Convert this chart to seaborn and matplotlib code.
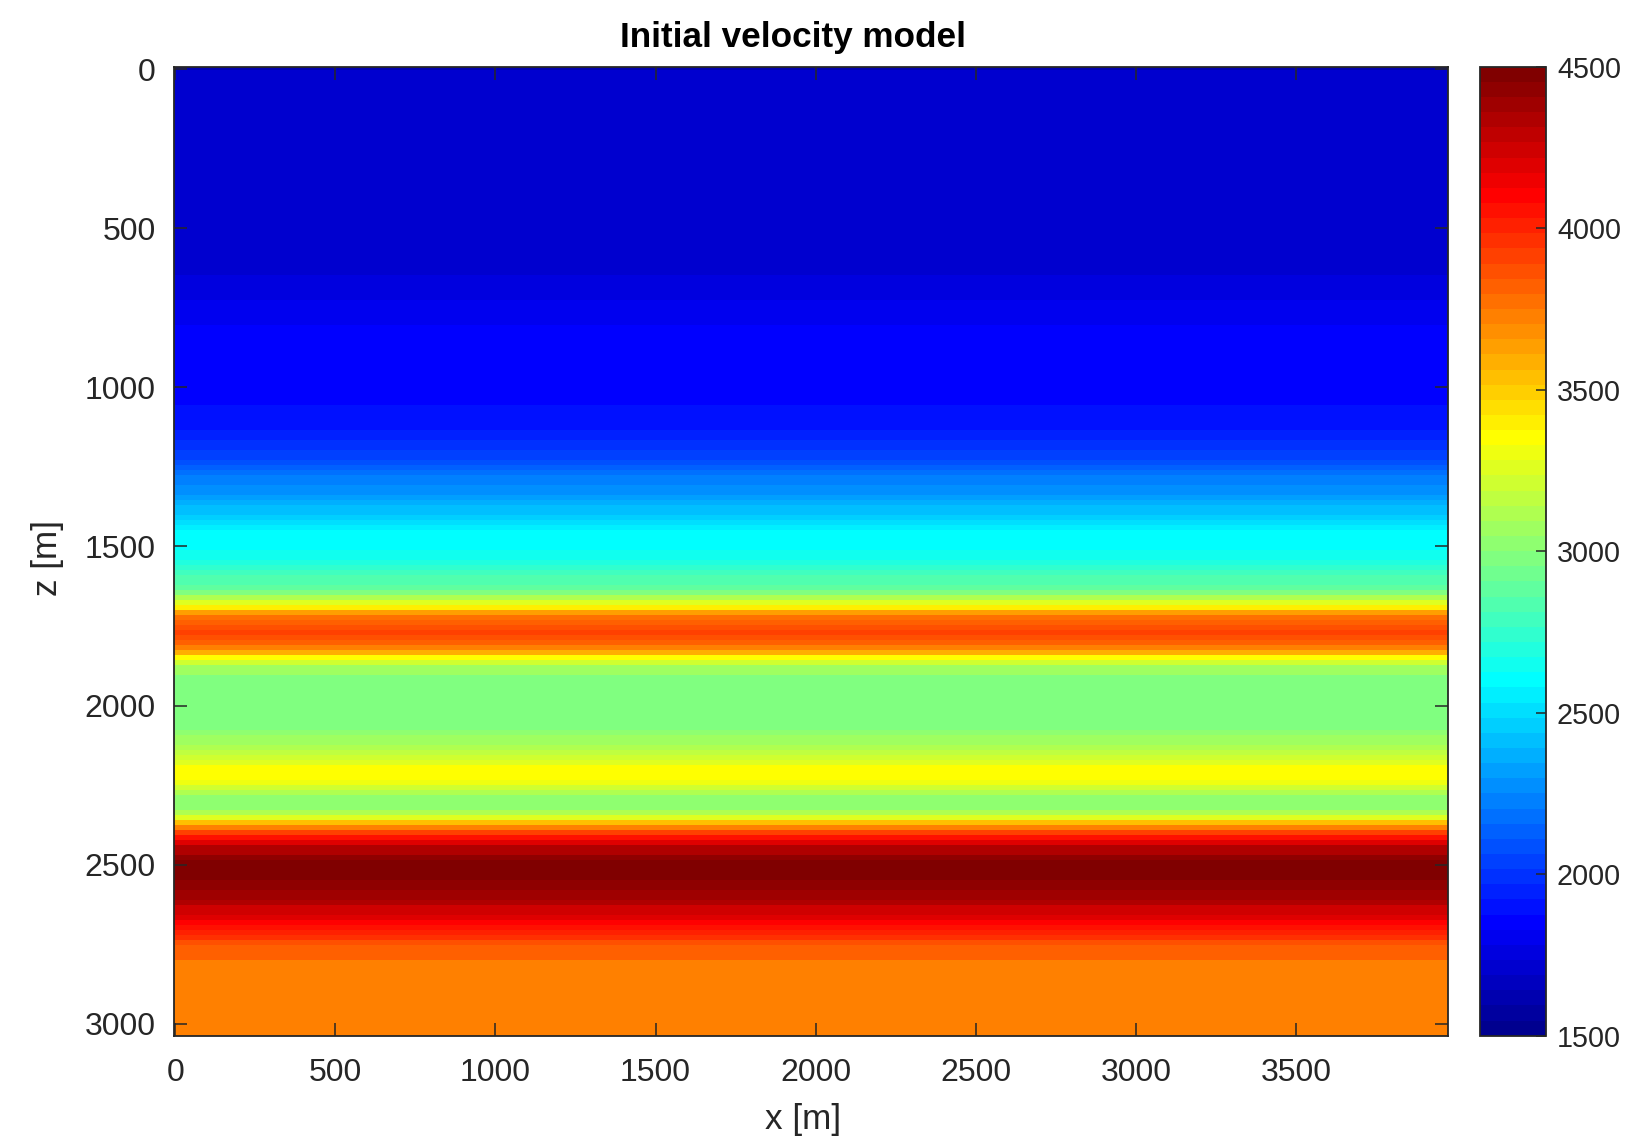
import numpy as np
import pandas as pd
import matplotlib
matplotlib.use("Agg")
import matplotlib.pyplot as plt
from matplotlib.colors import ListedColormap
import seaborn as sns

# ---------------- data ----------------
# velocity profile as layers: number of model rows (dz each) and velocity [m/s]
layer_rows = [1, 41, 5, 5, 16, 5, 2, 2, 2, 1, 1, 1, 2, 2, 1, 1, 2, 1, 1, 1, 4, 2, 1, 1, 1,
              2, 1, 1, 1, 1, 1, 1, 1, 1, 1, 1, 1, 1, 1, 1, 1, 1, 2, 11, 1, 2, 1, 1, 1, 1,
              3, 1, 1, 1, 3, 1, 1, 1, 1, 1, 1, 1, 2, 1, 4, 2, 2, 1, 2, 1, 1, 1, 1, 1, 1, 3, 16]
layer_velocity = [1617, 1711, 1758, 1805, 1852, 1898, 1945, 1992, 2039, 2086, 2133, 2180,
                  2227, 2273, 2320, 2367, 2414, 2461, 2508, 2555, 2602, 2648, 2695, 2742,
                  2789, 2836, 2883, 2977, 3117, 3258, 3398, 3633, 3773, 3820, 3867, 3914,
                  3867, 3820, 3727, 3586, 3352, 3211, 3070, 2977, 3023, 3070, 3117, 3164,
                  3211, 3258, 3352, 3305, 3211, 3117, 3023, 3117, 3258, 3539, 3727, 3914,
                  4055, 4195, 4336, 4430, 4477, 4430, 4383, 4336, 4242, 4195, 4102, 4055,
                  4008, 3961, 3867, 3820, 3727]
assert len(layer_rows) == len(layer_velocity)

z_first_edge = -13.5   # top edge of first model row [m]
dz = 15.72             # row spacing [m]
z_view = (-8.2, 3038.0)  # visible depth range [m]
dx = 10.0              # column spacing [m]
n_columns = 398        # columns centred at 0 .. 3970 m

x_ticks = [0, 500, 1000, 1500, 2000, 2500, 3000, 3500]
z_ticks = [0, 500, 1000, 1500, 2000, 2500, 3000]
cbar_ticks = [1500, 2000, 2500, 3000, 3500, 4000, 4500]
v_min, v_max = 1500, 4500

title = "Initial velocity model"
x_label = "x [m]"
z_label = "z [m]"

# ---------------- model grid ----------------
profile = np.repeat(np.array(layer_velocity, float), layer_rows)
n_rows = len(profile)
model = np.tile(profile[:, None], (1, n_columns))
df = pd.DataFrame(model,
                  index=np.round(z_first_edge + (np.arange(n_rows) + 0.5) * dz, 1),
                  columns=np.arange(n_columns) * dx)


def matlab_jet(n=64):
    m = int(np.ceil(n / 4))
    u = np.concatenate([np.arange(1, m + 1) / m, np.ones(m - 1), np.arange(m, 0, -1) / m])
    g = int(np.ceil(m / 2)) - (1 if n % 4 == 1 else 0) + np.arange(1, len(u) + 1)
    r = g + m
    b = g - m
    J = np.zeros((n, 3))
    for idx, ch in ((r, 0), (g, 1), (b, 2)):
        ok = (idx >= 1) & (idx <= n)
        J[idx[ok] - 1, ch] = u[ok]
    return ListedColormap(J)


cmap = matlab_jet(64)


def z_to_row(z):
    return (z - z_first_edge) / dz


def x_to_col(x):
    return x / dx + 0.5


# ---------------- figure ----------------
sns.set_theme(style="white")
plt.rcParams['font.family'] = ['Liberation Sans', 'DejaVu Sans']
dark = "#262626"

W, H = 1630, 1143
fig = plt.figure(figsize=(W / 100, H / 100), dpi=100)
ax_l, ax_r, ax_t, ax_b = 173.7, 1448.0, 66.7, 1035.7
ax = fig.add_axes([ax_l / W, 1 - ax_b / H, (ax_r - ax_l) / W, (ax_b - ax_t) / H])
cb_l, cb_r = 1480.3, 1545.8
cax = fig.add_axes([cb_l / W, 1 - ax_b / H, (cb_r - cb_l) / W, (ax_b - ax_t) / H])

sns.heatmap(df, ax=ax, cbar_ax=cax, cmap=cmap, vmin=v_min, vmax=v_max,
            xticklabels=False, yticklabels=False, rasterized=True)

ax.set_ylim(z_to_row(z_view[1]), z_to_row(z_view[0]))
ax.set_xticks([x_to_col(x) for x in x_ticks])
ax.set_xticklabels([str(x) for x in x_ticks])
ax.set_yticks([z_to_row(z) for z in z_ticks])
ax.set_yticklabels([str(z) for z in z_ticks], rotation=0)
ax.set_xlabel("")
ax.set_ylabel("")
ax.set_axisbelow(False)

for s in ax.spines.values():
    s.set_visible(True)
    s.set_color(dark)
    s.set_linewidth(1.3)
ax.tick_params(axis="both", direction="in", length=9.5, width=1.1, color=dark,
               top=True, right=True, bottom=True, left=True,
               labelsize=23, labelcolor=dark)
ax.tick_params(axis="y", pad=13)
ax.tick_params(axis="x", pad=16)

cbar = ax.collections[0].colorbar
cbar.set_ticks(cbar_ticks)
cbar.set_ticklabels([str(t) for t in cbar_ticks])
cbar.outline.set_visible(True)
cbar.outline.set_edgecolor(dark)
cbar.outline.set_linewidth(1.3)
cax.set_axisbelow(False)
cax.tick_params(axis="y", direction="in", length=7, width=1.1, color=dark,
                right=True, left=False, labelsize=20.7, labelcolor=dark, pad=8)

fig.text(793 / W, 1 - 37 / H, title, ha="center", va="center",
         fontsize=25.3, fontweight="bold", color="black")
fig.text(803 / W, 1 - 1120 / H, x_label, ha="center", va="center",
         fontsize=25.3, color=dark)
fig.text(47 / W, 1 - 558 / H, z_label, ha="center", va="center",
         rotation=90, fontsize=25.3, color=dark)

fig.savefig("out.png", dpi=100, facecolor="white")
